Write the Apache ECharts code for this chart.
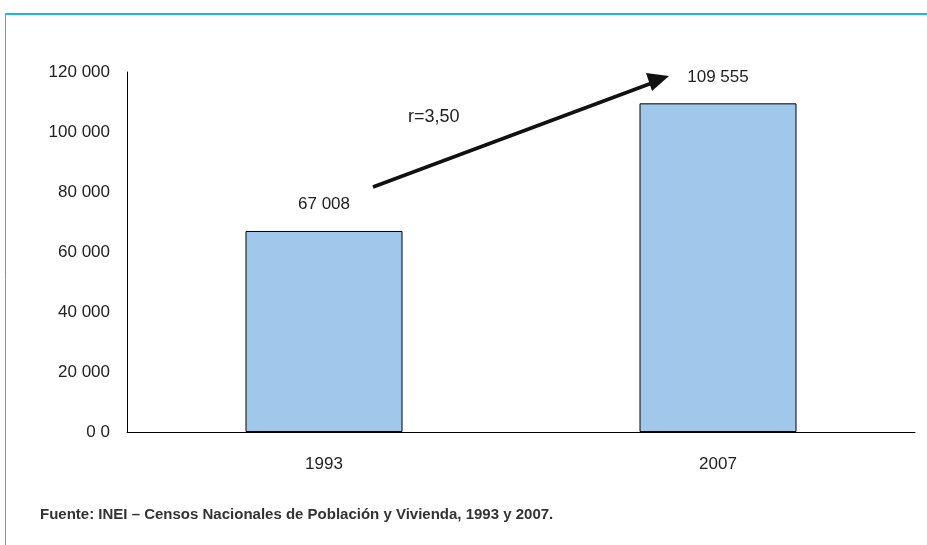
<!DOCTYPE html>
<html><head><meta charset="utf-8">
<script src="https://cdn.jsdelivr.net/npm/echarts@6/dist/echarts.min.js"></script>
<style>html,body{margin:0;padding:0;background:#fff}#c{width:927px;height:545px}</style>
</head><body><div id="c"></div>
<script>
const categories = ['1993', '2007'];
const values = [67008, 109555];
const rateLabel = 'r=3,50';
const source = 'Fuente: INEI – Censos Nacionales de Población y Vivienda, 1993 y 2007.';
const FONT = '"Liberation Sans Narrow", "Arial Narrow", "Liberation Sans", Arial, sans-serif';

function fmt(v){ return String(v).replace(/\B(?=(\d{3})+(?!\d))/g, ' '); }

const chart = echarts.init(document.getElementById('c'));
chart.setOption({
  animation: false,
  grid: { left: 127, right: 12, top: 72, bottom: 113 },
  xAxis: {
    type: 'category', data: categories,
    axisLine: { lineStyle: { color: '#000', width: 1 } },
    axisTick: { show: false },
    axisLabel: { color: '#222', fontFamily: FONT, fontSize: 17, margin: 24 }
  },
  yAxis: {
    type: 'value', min: 0, max: 120000, interval: 20000,
    axisLine: { show: true, lineStyle: { color: '#000', width: 1 } },
    axisTick: { show: false },
    splitLine: { show: false },
    axisLabel: { color: '#222', fontFamily: FONT, fontSize: 17, margin: 17,
      formatter: v => v === 0 ? '0 0' : fmt(v) }
  },
  series: [{
    type: 'bar', data: values, barWidth: 157,
    itemStyle: { color: '#9fc8ea', borderColor: '#000', borderWidth: 1 },
    label: { show: true, position: 'top', distance: 18, color: '#222', fontFamily: FONT, fontSize: 17,
      formatter: p => fmt(p.value) }
  }],
  graphic: [
    { type: 'line', shape: { x1: 927, y1: 14, x2: 5, y2: 14 }, style: { stroke: '#1cb8e8', lineWidth: 2 } },
    { type: 'line', shape: { x1: 5.5, y1: 14, x2: 5.5, y2: 545 }, style: { stroke: '#1cb8e8', lineWidth: 1 } },
    { type: 'line', shape: { x1: 373, y1: 187, x2: 652, y2: 83 }, style: { stroke: '#111', lineWidth: 3.5 } },
    { type: 'polygon', shape: { points: [[669, 76], [646, 73], [652, 91]] }, style: { fill: '#111' } },
    { type: 'text', left: 408, top: 108, style: { text: rateLabel, font: '18px ' + FONT, fill: '#222' } },
    { type: 'text', left: 40, top: 507, style: { text: source, font: 'bold 15px ' + FONT, fill: '#333' } }
  ]
});
</script></body></html>
